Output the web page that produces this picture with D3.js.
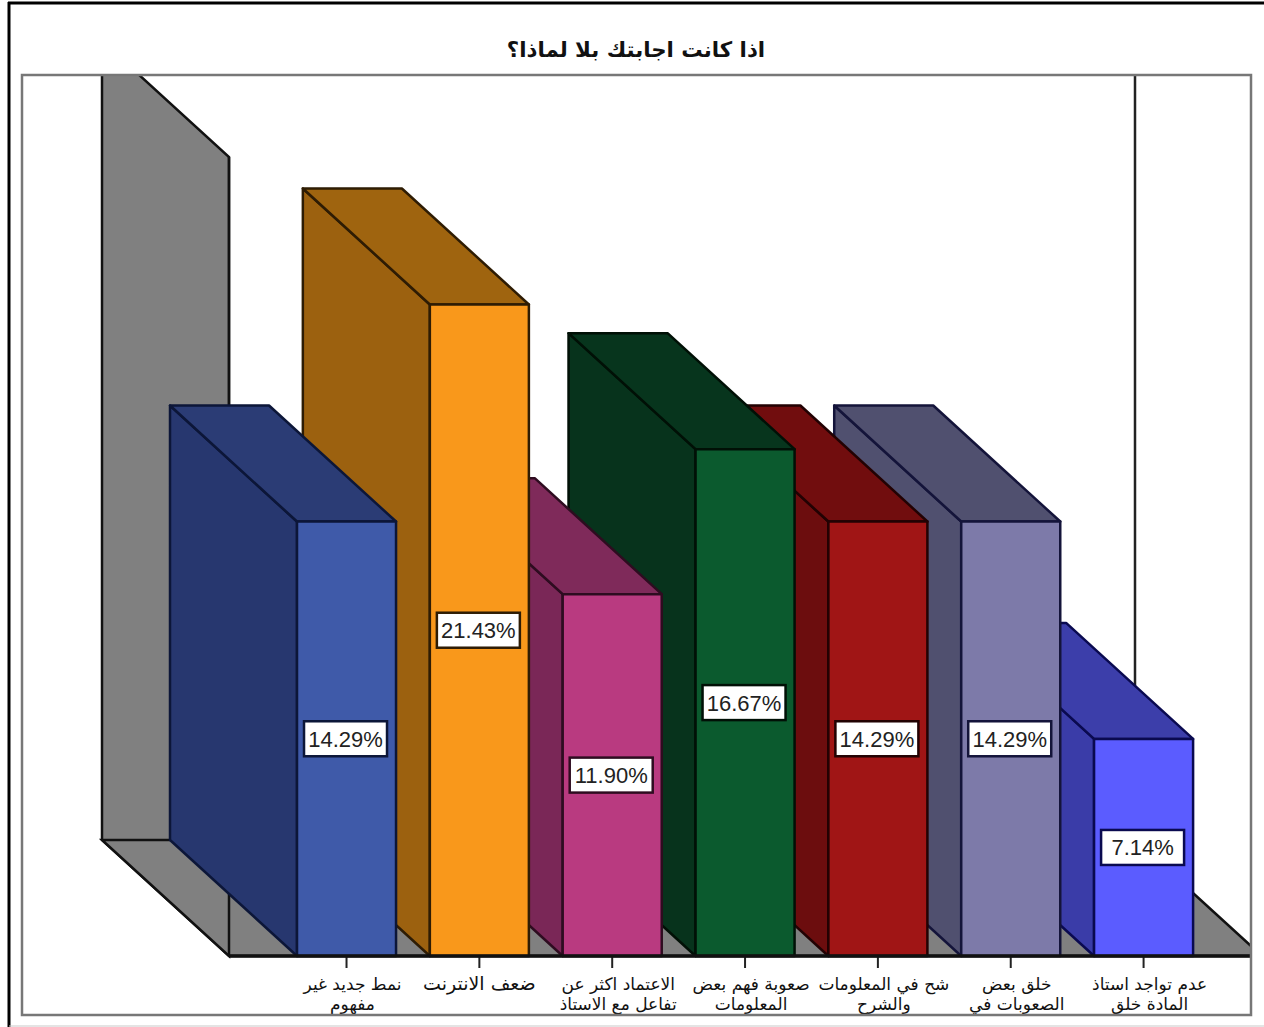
<!DOCTYPE html>
<html lang="ar">
<head>
<meta charset="utf-8">
<title>اذا كانت اجابتك بلا لماذا؟</title>
<script src="https://cdn.jsdelivr.net/npm/d3@7/dist/d3.min.js"></script>
<style>
  html, body { margin: 0; padding: 0; background: #fff; }
  svg { display: block; }
</style>
</head>
<body>
<svg id="chart" width="1264" height="1027"></svg>
<script>
const chartTitle = "اذا كانت اجابتك بلا لماذا؟";
const categories = ["c1", "c2", "c3", "c4", "c5", "c6", "c7"];
const categoryLines = [
  ["نمط جديد غير", "مفهوم"],
  ["ضعف الانترنت"],
  ["الاعتماد اكثر عن", "تفاعل مع الاستاذ"],
  ["صعوبة فهم بعض", "المعلومات"],
  ["شح في المعلومات", "والشرح"],
  ["خلق بعض", "الصعوبات في"],
  ["عدم تواجد استاذ", "المادة خلق"]
];
const percents = [14.29, 21.43, 11.90, 16.67, 14.29, 14.29, 7.14];
const frontColors = ["#3f5aa9", "#f9981b", "#b93a80", "#0b5a2e", "#a01515", "#7d7aa9", "#5b5cff"];
const sideColors  = ["#27376f", "#9c610f", "#7a2757", "#07331c", "#6c0d0e", "#50506f", "#3a3ca8"];
const topColors   = ["#2b3c75", "#9f640f", "#7f2a5a", "#07351d", "#710d0e", "#50506f", "#3c3eaa"];
const edgeColors  = ["#0c1638", "#2e1c04", "#2e0c20", "#011006", "#220203", "#14143a", "#0a0a50"];

const frame = { left: 22, top: 75, right: 1251, bottom: 1015 };
const baseY = 956;
const depthX = 127;
const depthY = 116;
const wallX = 229;
const wallRightX = 1135 + depthX;

const svg = d3.select("#chart");

const x = d3.scaleBand()
  .domain(categories)
  .range([280.1, 1210])
  .paddingInner(0.2545)
  .paddingOuter(0.12725);

const y = d3.scaleLinear().domain([0, 26.28]).range([baseY, 157]);

const line = d3.line();

// Page rules around the plot
svg.append("line").attr("x1", 8).attr("x2", 1264).attr("y1", 3).attr("y2", 3)
  .attr("stroke", "#000").attr("stroke-width", 3);
svg.append("line").attr("x1", 9).attr("x2", 9).attr("y1", 2).attr("y2", 1027)
  .attr("stroke", "#000").attr("stroke-width", 3);
svg.append("line").attr("x1", 9).attr("x2", 1264).attr("y1", 1026).attr("y2", 1026)
  .attr("stroke", "#c9c9c9").attr("stroke-width", 1);

svg.append("text")
  .attr("x", 636).attr("y", 57)
  .attr("text-anchor", "middle").attr("direction", "rtl")
  .attr("font-family", "'DejaVu Sans', sans-serif")
  .attr("font-weight", "bold").attr("font-size", 21.3).attr("fill", "#111")
  .text(chartTitle);

svg.append("defs").append("clipPath").attr("id", "plot-clip").append("rect")
  .attr("x", frame.left).attr("y", frame.top)
  .attr("width", frame.right - frame.left).attr("height", frame.bottom - frame.top);

const plot = svg.append("g").attr("clip-path", "url(#plot-clip)");

// Left wall, then the floor over it, then the wall's front edge
const wallTop = y.range()[1];
plot.append("path")
  .attr("d", line([[wallX - depthX, wallTop - depthY], [wallX, wallTop], [wallX, baseY],
                   [wallX - depthX, baseY - depthY]]) + "Z")
  .attr("fill", "#808080").attr("stroke", "#111").attr("stroke-width", 2.5);
plot.append("path")
  .attr("d", line([[wallX - depthX, baseY - depthY], [wallRightX - depthX, baseY - depthY],
                   [wallRightX, baseY], [wallX, baseY]]) + "Z")
  .attr("fill", "#808080").attr("stroke", "#111").attr("stroke-width", 2.5);
plot.append("line")
  .attr("x1", wallX).attr("x2", wallX).attr("y1", wallTop).attr("y2", baseY)
  .attr("stroke", "#111").attr("stroke-width", 2.5);
plot.append("line")
  .attr("x1", wallRightX - depthX).attr("x2", wallRightX - depthX)
  .attr("y1", frame.top).attr("y2", baseY - depthY)
  .attr("stroke", "#222").attr("stroke-width", 2.5);

// Bars are painted right to left so each one overlaps its right-hand neighbour's side
const order = d3.range(categories.length).reverse();
const bars = plot.selectAll("g.bar").data(order).join("g").attr("class", "bar");

bars.each(function (i) {
  const g = d3.select(this);
  const x0 = x(categories[i]);
  const x1 = x0 + x.bandwidth();
  const yTop = y(percents[i]);
  const face = (pts, fill) => g.append("path")
    .attr("d", line(pts) + "Z")
    .attr("fill", fill).attr("stroke", edgeColors[i])
    .attr("stroke-width", 2.5).attr("stroke-linejoin", "round");
  face([[x0 - depthX, yTop - depthY], [x0, yTop], [x0, baseY], [x0 - depthX, baseY - depthY]], sideColors[i]);
  face([[x0 - depthX, yTop - depthY], [x1 - depthX, yTop - depthY], [x1, yTop], [x0, yTop]], topColors[i]);
  face([[x0, yTop], [x1, yTop], [x1, baseY], [x0, baseY]], frontColors[i]);
});

// Base line with category ticks and wrapped labels
const axis = d3.axisBottom(x).tickSize(12).tickPadding(0).tickFormat("");
const axisG = svg.append("g")
  .attr("transform", `translate(0,${baseY})`)
  .call(axis);
axisG.select(".domain").remove();
axisG.selectAll(".tick line").attr("stroke", "#222").attr("stroke-width", 2);

svg.append("line")
  .attr("x1", wallX).attr("x2", frame.right).attr("y1", baseY).attr("y2", baseY)
  .attr("stroke", "#111").attr("stroke-width", 3.5);

const labels = svg.append("g").attr("clip-path", "url(#plot-clip)");
categories.forEach((c, i) => {
  const wrapped = categoryLines[i].length > 1;
  const cx = x(c) + x.bandwidth() / 2 + (wrapped ? 6 : 0);
  const t = labels.append("text")
    .attr("text-anchor", "middle").attr("direction", "rtl")
    .attr("font-family", "'DejaVu Sans', sans-serif")
    .attr("font-size", wrapped ? 17 : 19).attr("fill", "#111");
  categoryLines[i].forEach((ln, k) => {
    t.append("tspan").attr("x", cx).attr("y", 990 + k * 20).text(ln);
  });
});

// Value boxes at mid height of each front face
const boxW = 83, boxH = 35;
const valueLabels = svg.selectAll("g.value").data(percents).join("g").attr("class", "value")
  .attr("transform", (d, i) =>
    `translate(${x(categories[i]) + x.bandwidth() / 2 - 1},${(y(d) + baseY) / 2})`);
valueLabels.append("rect")
  .attr("x", -boxW / 2).attr("y", -boxH / 2)
  .attr("width", boxW).attr("height", boxH)
  .attr("fill", "#fff")
  .attr("stroke", (d, i) => edgeColors[i]).attr("stroke-width", 2.5);
valueLabels.append("text")
  .attr("text-anchor", "middle").attr("dy", "0.36em")
  .attr("font-family", "'Liberation Sans', Arial, sans-serif")
  .attr("font-size", 22).attr("fill", "#222")
  .text(d => d3.format(".2f")(d) + "%");

// Plot frame on top of everything
svg.append("rect")
  .attr("x", frame.left).attr("y", frame.top)
  .attr("width", frame.right - frame.left).attr("height", frame.bottom - frame.top)
  .attr("fill", "none").attr("stroke", "#777").attr("stroke-width", 2.5);
</script>
</body>
</html>
